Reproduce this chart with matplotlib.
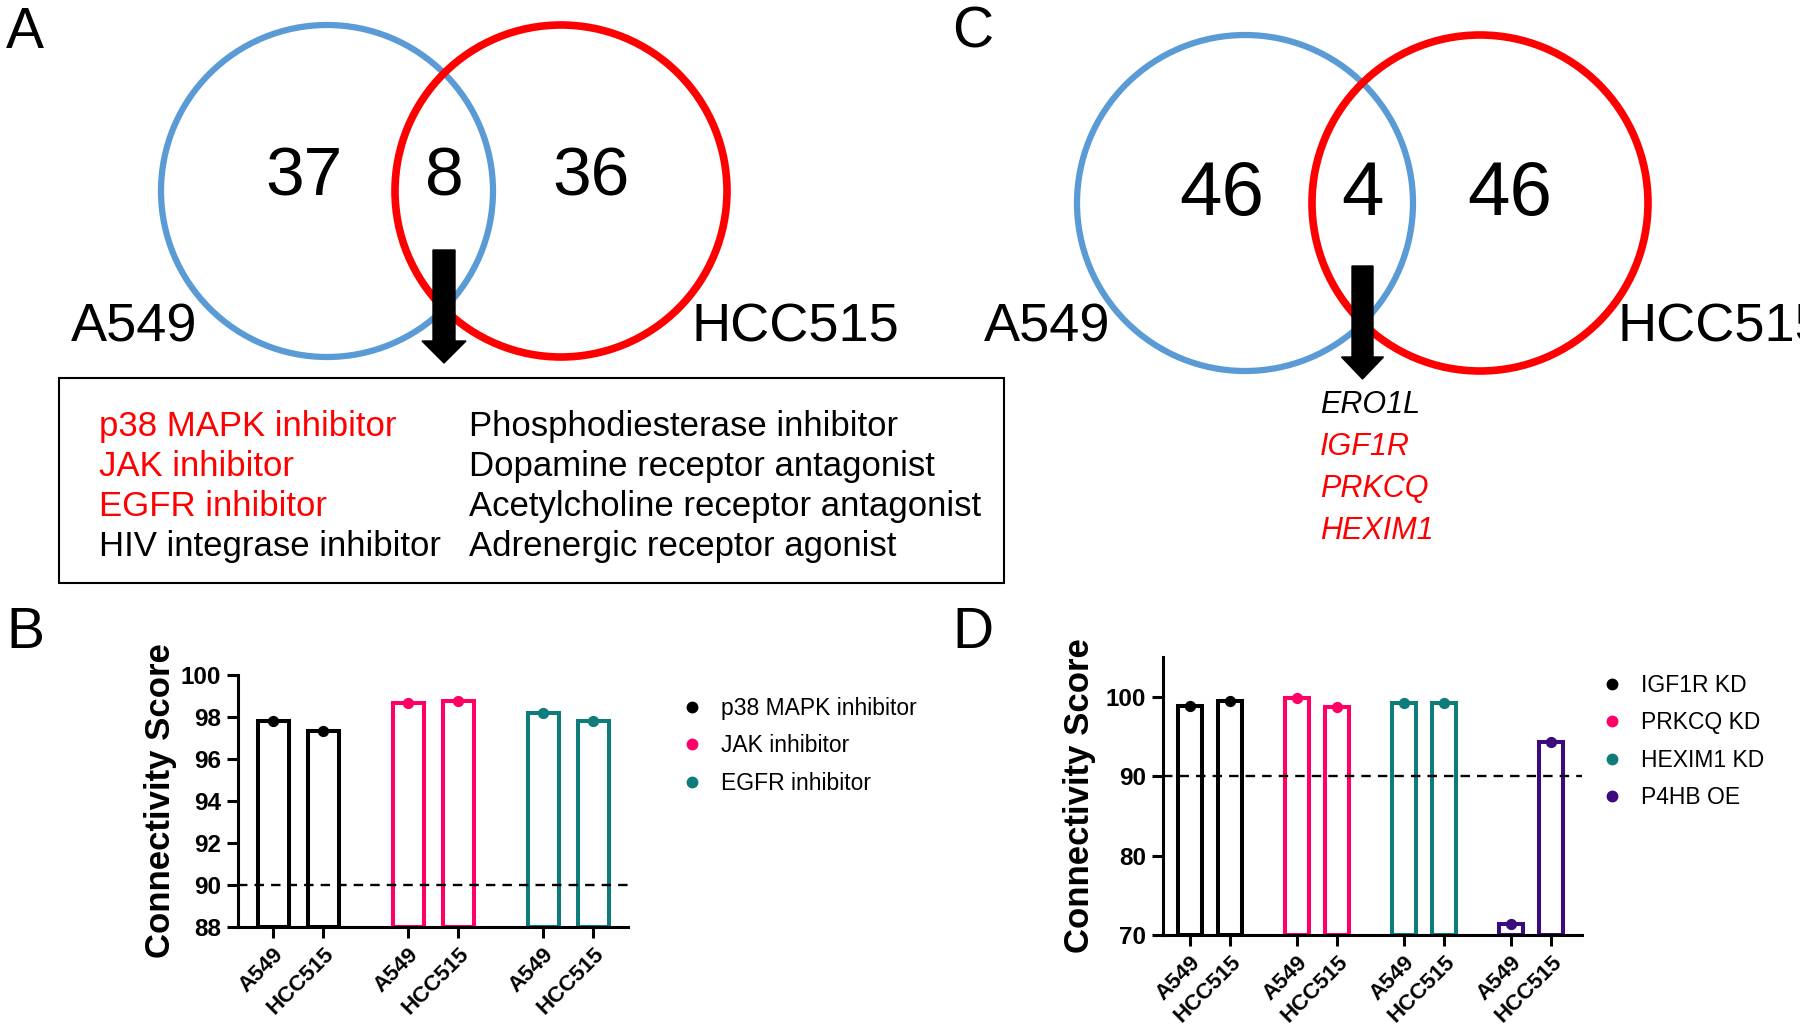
import matplotlib
matplotlib.use("Agg")
import numpy as np
import matplotlib.pyplot as plt
from matplotlib.patches import Circle, Rectangle
from matplotlib.lines import Line2D

plt.rcParams['font.family'] = ['Liberation Sans', 'DejaVu Sans']

# ---- data ----
venn_a_counts = [37, 8, 36]
venn_c_counts = [46, 4, 46]
cell_lines = ['A549', 'HCC515']

moa_left = ['p38 MAPK inhibitor', 'JAK inhibitor', 'EGFR inhibitor', 'HIV integrase inhibitor']
moa_left_red = [True, True, True, False]
moa_right = ['Phosphodiesterase inhibitor', 'Dopamine receptor antagonist',
             'Acetylcholine receptor antagonist', 'Adrenergic receptor agonist']

genes = ['ERO1L', 'IGF1R', 'PRKCQ', 'HEXIM1']
genes_red = [False, True, True, True]

b_groups = ['p38 MAPK inhibitor', 'JAK inhibitor', 'EGFR inhibitor']
b_a549 = [97.8, 98.67, 98.17]
b_hcc515 = [97.35, 98.75, 97.8]

d_groups = ['IGF1R KD', 'PRKCQ KD', 'HEXIM1 KD', 'P4HB OE']
d_a549 = [98.8, 99.9, 99.15, 71.4]
d_hcc515 = [99.45, 98.7, 99.15, 94.3]

threshold = 90
group_colors = ['#000000', '#FF0066', '#0E7C7B', '#3D0A7E']

W, H = 1800, 1024
fig = plt.figure(figsize=(W / 100, H / 100), dpi=100)

# overlay in pixel coordinates for the Venn parts
ov = fig.add_axes([0, 0, 1, 1])
ov.set_xlim(0, W)
ov.set_ylim(H, 0)
ov.axis('off')
ov.patch.set_visible(False)


def venn(cx_left, cx_right, cy, r, counts, num_size, num_y, lab_left_x, lab_right_x):
    ov.add_patch(Circle((cx_left, cy), r, fill=False, ec='#5B9BD5', lw=4.5))
    ov.add_patch(Circle((cx_right, cy), r, fill=False, ec='#FF0000', lw=5.5))
    mid = (cx_left + cx_right) / 2
    xs = [cx_left - 0.14 * r, mid, cx_right + 0.18 * r]
    for x, c in zip(xs, counts):
        ov.text(x, num_y, str(c), fontsize=num_size, ha='center', va='baseline')
    ov.text(lab_left_x, 342, cell_lines[0], fontsize=39, ha='center', va='baseline')
    # right label runs off the figure edge, as in the original
    ov.text(lab_right_x, 342, cell_lines[1], fontsize=39, ha='left', va='baseline')
    return mid


# panel A
mid_a = venn(327, 561, 191, 166, venn_a_counts, 50, 196, 134, 692)
ov.arrow(mid_a, 250, 0, 113, width=22, head_width=44, head_length=22,
         length_includes_head=True, color='black')
ov.add_patch(Rectangle((59, 378), 945, 205, fill=False, ec='black', lw=1.5))
for i, (l, red, r) in enumerate(zip(moa_left, moa_left_red, moa_right)):
    yb = 436 + 40 * i
    ov.text(99, yb, l, fontsize=25, color='#FF0000' if red else 'black', va='baseline')
    ov.text(469, yb, r, fontsize=25, color='black', va='baseline')

# panel C
mid_c = venn(1245, 1480, 203, 168, venn_c_counts, 55, 215, 1047, 1618)
ov.arrow(mid_c, 266, 0, 113, width=21, head_width=42, head_length=22,
         length_includes_head=True, color='black')
for i, (g, red) in enumerate(zip(genes, genes_red)):
    ov.text(1320, 405 + 42 * i, g, fontsize=22, style='italic',
            color='#FF0000' if red else 'black', va='center')

for lab, x, y in [('A', 25, 48), ('C', 973, 48), ('B', 25, 648), ('D', 973, 648)]:
    ov.text(x, y, lab, fontsize=41, ha='center', va='baseline')


def bar_panel(rect, a549, hcc515, groups, gap, ylim, yticks, xlim, leg_anchor, lab_x):
    ax = fig.add_axes(rect)
    base = ylim[0]
    pos, labels = [], []
    for g, (va, vh) in enumerate(zip(a549, hcc515)):
        p = np.array([g * gap, g * gap + 1])
        vals = np.array([va, vh])
        ax.bar(p, vals - base, bottom=base, width=0.62, color='white',
               edgecolor=group_colors[g], linewidth=2.9, zorder=2)
        ax.scatter(p, vals, s=50, color=group_colors[g], zorder=3, clip_on=False)
        pos.extend(p)
        labels.extend(cell_lines)
    ax.axhline(threshold, color='black', ls=(0, (4, 3)), lw=1.7, zorder=4)
    ax.set_xlim(*xlim)
    ax.set_ylim(*ylim)
    ax.set_yticks(yticks)
    ax.set_xticks(pos)
    ax.set_xticklabels(labels, rotation=45, ha='right', rotation_mode='anchor',
                       fontsize=16, fontweight='bold')
    for t in ax.get_yticklabels():
        t.set_fontsize(17.5)
        t.set_fontweight('bold')
    for s in ['top', 'right']:
        ax.spines[s].set_visible(False)
    for s in ['left', 'bottom']:
        ax.spines[s].set_linewidth(2.2)
    ax.tick_params(width=2.2, length=8, pad=4)
    ax.set_ylabel('Connectivity Score', fontsize=25, fontweight='bold')
    ax.yaxis.set_label_coords(lab_x, 0.5)
    handles = [Line2D([], [], ls='none', marker='o', ms=7.5, color=group_colors[i])
               for i in range(len(groups))]
    fig.legend(handles, groups, loc='upper left', bbox_to_anchor=leg_anchor,
               frameon=False, fontsize=16.5, handlelength=1, handletextpad=0.75,
               labelspacing=0.63, borderpad=0, borderaxespad=0)
    return ax


bar_panel([238 / W, 1 - 927 / H, 390 / W, 252 / H], b_a549, b_hcc515, b_groups,
          2.7, (88, 100), [88, 90, 92, 94, 96, 98, 100], (-0.7, 7.1),
          (681 / W, 1 - 697 / H), -0.156)
bar_panel([1163 / W, 1 - 935 / H, 419 / W, 278 / H], d_a549, d_hcc515, d_groups,
          2.675, (70, 105), [70, 80, 90, 100], (-0.675, 9.8),
          (1601 / W, 1 - 674 / H), -0.159)

fig.savefig('out.png', dpi=100)
